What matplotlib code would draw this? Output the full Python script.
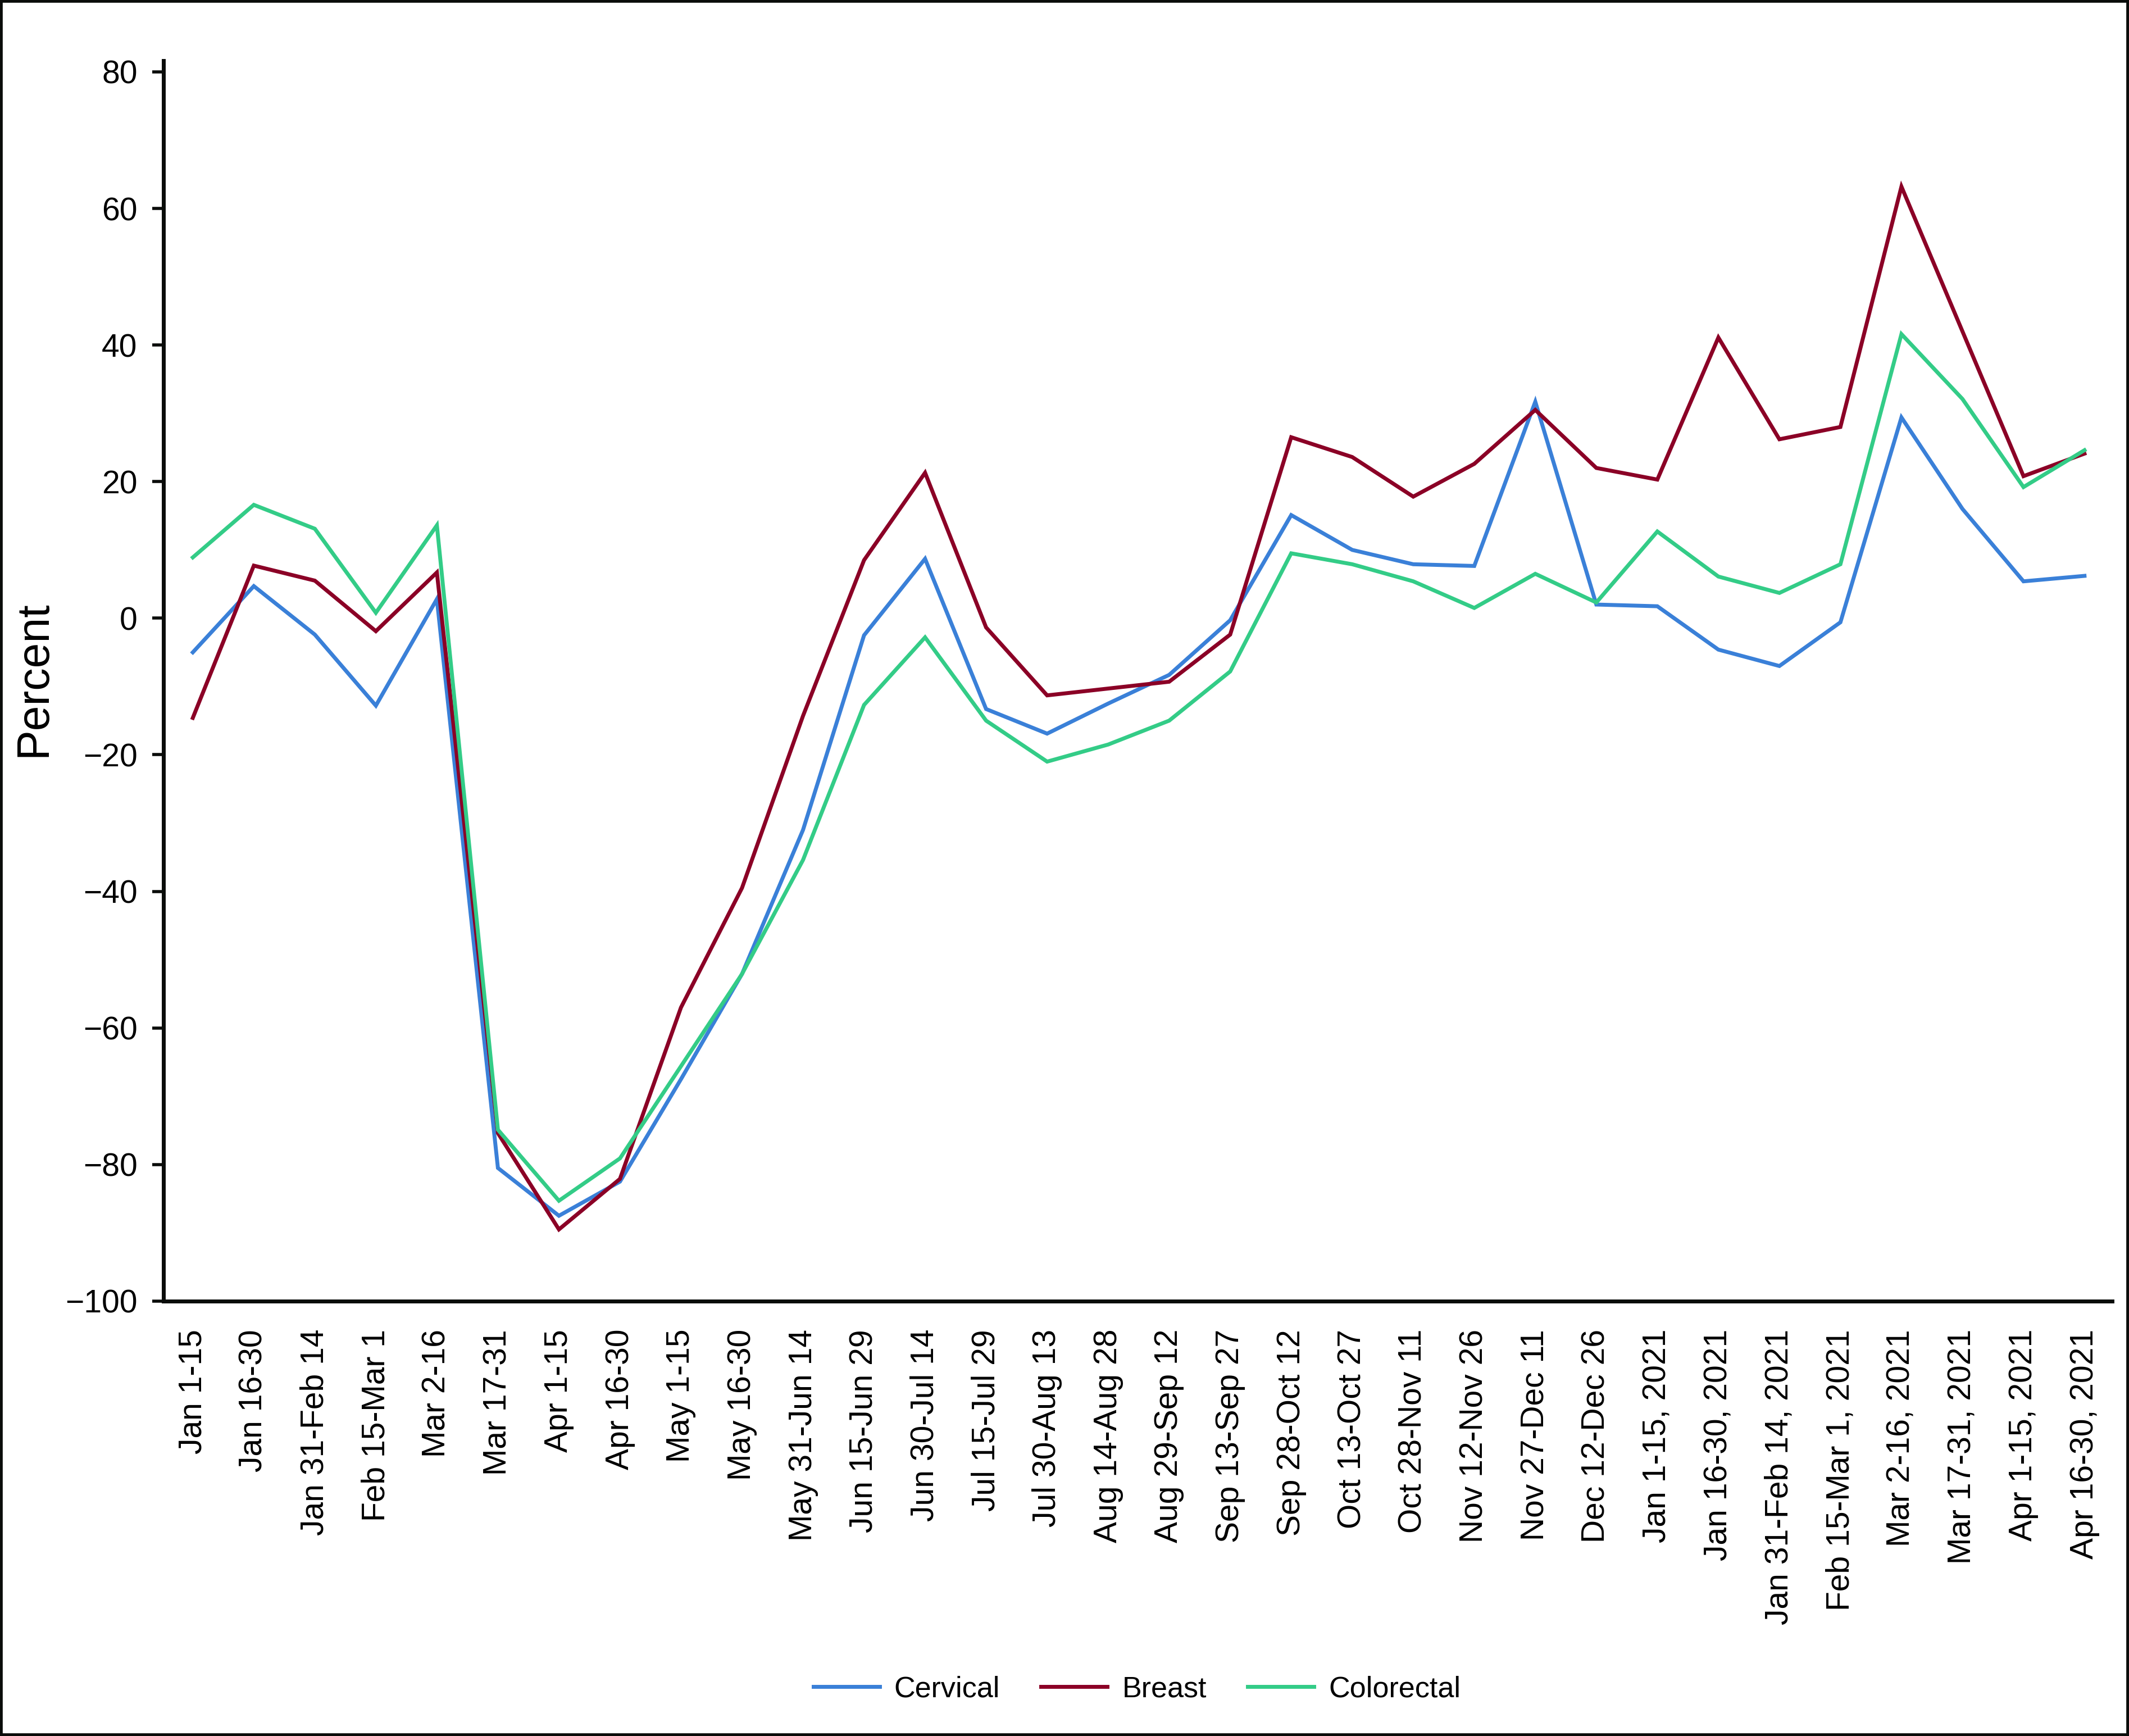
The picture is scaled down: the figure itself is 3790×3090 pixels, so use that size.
import matplotlib
matplotlib.use("Agg")
import matplotlib.pyplot as plt
from matplotlib import font_manager
from matplotlib.patches import Rectangle

periods = ["Jan 1-15", "Jan 16-30", "Jan 31-Feb 14", "Feb 15-Mar 1", "Mar 2-16",
           "Mar 17-31", "Apr 1-15", "Apr 16-30", "May 1-15", "May 16-30",
           "May 31-Jun 14", "Jun 15-Jun 29", "Jun 30-Jul 14", "Jul 15-Jul 29",
           "Jul 30-Aug 13", "Aug 14-Aug 28", "Aug 29-Sep 12", "Sep 13-Sep 27",
           "Sep 28-Oct 12", "Oct 13-Oct 27", "Oct 28-Nov 11", "Nov 12-Nov 26",
           "Nov 27-Dec 11", "Dec 12-Dec 26", "Jan 1-15, 2021", "Jan 16-30, 2021",
           "Jan 31-Feb 14, 2021", "Feb 15-Mar 1, 2021", "Mar 2-16, 2021",
           "Mar 17-31, 2021", "Apr 1-15, 2021", "Apr 16-30, 2021"]

cervical = [-5.0, 4.7, -2.4, -12.8, 2.8, -80.5, -87.5, -82.5, -67.5, -52.1,
            -31.0, -2.5, 8.7, -13.3, -16.9, -12.5, -8.3, -0.3, 15.1, 10.0,
            7.9, 7.65, 31.7, 2.0, 1.75, -4.6, -7.0, -0.6, 29.4, 16.0, 5.4, 6.2]

breast = [-14.6, 7.7, 5.5, -1.9, 6.7, -75.4, -89.5, -82.1, -57.0, -39.5,
          -14.3, 8.5, 21.3, -1.35, -11.3, -10.3, -9.3, -2.4, 26.5, 23.6,
          17.8, 22.6, 30.5, 22.0, 20.3, 41.1, 26.2, 28.0, 63.2, 42.0, 20.8, 24.1]

colorectal = [8.9, 16.6, 13.1, 0.8, 13.6, -74.9, -85.3, -79.1, -65.6, -52.1,
              -35.4, -12.7, -2.8, -15.0, -21.0, -18.5, -15.0, -7.8, 9.5, 7.9,
              5.4, 1.5, 6.5, 2.3, 12.7, 6.1, 3.7, 7.9, 41.6, 32.1, 19.2, 24.6]

y_ticks = [-100, -80, -60, -40, -20, 0, 20, 40, 60, 80]

series_names = ["Cervical", "Breast", "Colorectal"]
series_colors = ["#3a80d8", "#8b0026", "#33cc87"]

installed = {f.name for f in font_manager.fontManager.ttflist}
base_font = "Liberation Sans" if "Liberation Sans" in installed else "DejaVu Sans"
narrow_font = "Liberation Sans Narrow" if "Liberation Sans Narrow" in installed else base_font

plt.rcParams["font.family"] = [base_font, "DejaVu Sans"]

fig = plt.figure(figsize=(37.9, 30.9), dpi=100)
ax = fig.add_axes([0.0768, 0.2505, 0.992 - 0.0768, 0.9649 - 0.2505])

x = list(range(len(periods)))
for vals, name, col in zip([cervical, breast, colorectal], series_names, series_colors):
    ax.plot(x, vals, color=col, lw=5, label=name, solid_joinstyle="miter")

ax.set_xlim(-0.48, 31.45)
ax.set_ylim(-100, 81.6)
ax.set_yticks(y_ticks)
ax.set_xticks(x)
ax.set_xticklabels(periods, rotation=90, ha="center", va="top")

for s in ["top", "right"]:
    ax.spines[s].set_visible(False)
for s in ["left", "bottom"]:
    ax.spines[s].set_linewidth(5)
    ax.spines[s].set_color("#0a0c0a")

ax.tick_params(axis="y", length=14.5, width=4, pad=19, labelsize=41, color="#0a0c0a")
ax.tick_params(axis="x", length=0, pad=36, labelsize=41)

fig.text(0.0158, 0.609, "Percent", rotation=90, ha="center", va="center",
         fontsize=58 if narrow_font == base_font else 64, family=[narrow_font, "DejaVu Sans"])

leg = ax.legend(loc="center", bbox_to_anchor=(0.534, 0.027), bbox_transform=fig.transFigure,
                ncol=3, frameon=False, fontsize=37.5, handlelength=2.27,
                handletextpad=0.5, columnspacing=1.4)
for line in leg.get_lines():
    line.set_linewidth(5)

fig.patches.append(Rectangle((0, 0), 1, 1, transform=fig.transFigure, fill=False,
                             lw=7, edgecolor="#0a0c0a"))

fig.savefig("out.png", dpi=100, facecolor="white")
